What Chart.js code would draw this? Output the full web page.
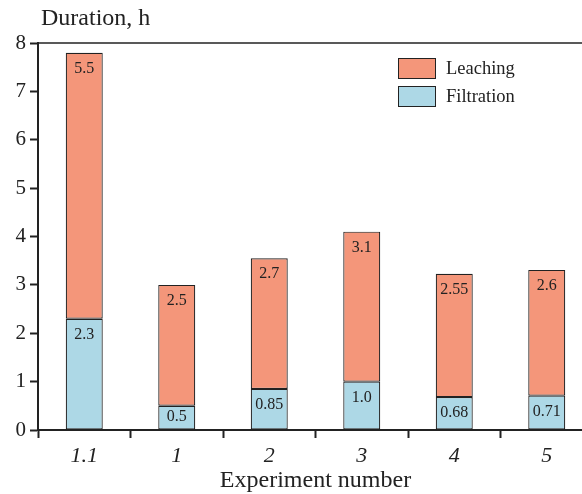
<!DOCTYPE html>
<html>
<head>
<meta charset="utf-8">
<script src="https://cdn.jsdelivr.net/npm/chart.js@4/dist/chart.umd.min.js"></script>
<style>
  html, body { margin: 0; padding: 0; background: #fff; overflow: hidden; }
  #wrap { width: 600px; height: 494px; position: relative; }
</style>
</head>
<body>
<div id="wrap"><canvas id="myChart" width="600" height="494"></canvas></div>
<script>
// experiment numbers on the x axis
const experiments = ["1.1", "1", "2", "3", "4", "5"];
// durations, hours
const filtration = [2.3, 0.5, 0.85, 1.0, 0.68, 0.71];
const leaching = [5.5, 2.5, 2.7, 3.1, 2.55, 2.6];
const yTicks = [0, 1, 2, 3, 4, 5, 6, 7, 8];

const SERIF = "'Liberation Serif', 'Times New Roman', serif";

function fmt(v) {
    return Number.isInteger(v) ? v.toFixed(1) : String(v);
}

// labels inside each bar segment, near its top
const segmentLabels = {
    id: "segmentLabels",
    afterDatasetsDraw(chart) {
        const ctx = chart.ctx;
        ctx.save();
        ctx.font = "16px " + SERIF;
        ctx.fillStyle = "#222";
        ctx.textAlign = "center";
        ctx.textBaseline = "middle";
        chart.data.datasets.forEach((ds, i) => {
            chart.getDatasetMeta(i).data.forEach((bar, j) => {
                const h = Math.abs(bar.base - bar.y);
                const off = Math.min(16, h / 2 - 1);
                ctx.fillText(fmt(ds.data[j]), bar.x, bar.y + off);
            });
        });
        ctx.restore();
    }
};

// top frame line, y-axis title and the legend box
const extras = {
    id: "extras",
    afterDraw(chart) {
        const ctx = chart.ctx;
        const a = chart.chartArea;
        ctx.save();
        ctx.strokeStyle = "#222";
        ctx.lineWidth = 1.5;
        ctx.beginPath();
        ctx.moveTo(a.left, a.top);
        ctx.lineTo(a.right, a.top);
        ctx.stroke();

        ctx.fillStyle = "#222";
        ctx.font = "24px " + SERIF;
        ctx.textAlign = "left";
        ctx.textBaseline = "middle";
        ctx.fillText("Duration, h", 41, 19);

        // legend: leaching above filtration
        const order = [1, 0];
        ctx.font = "18.5px " + SERIF;
        order.forEach((di, k) => {
            const ds = chart.data.datasets[di];
            const y = 58 + k * 28;
            ctx.fillStyle = ds.backgroundColor;
            ctx.fillRect(398, y, 37, 20);
            ctx.strokeStyle = "#222";
            ctx.lineWidth = 1;
            ctx.strokeRect(398.5, y + 0.5, 37, 20);
            ctx.fillStyle = "#222";
            ctx.fillText(ds.label, 446, y + 11);
        });
        ctx.restore();
    }
};

new Chart("myChart", {
    type: "bar",
    data: {
        labels: experiments,
        datasets: [{
            label: "Filtration",
            data: filtration,
            backgroundColor: "#add8e6",
            borderColor: "#222",
            borderWidth: 1.2,
            borderSkipped: false,
            barPercentage: 0.4,
            categoryPercentage: 1
        }, {
            label: "Leaching",
            data: leaching,
            backgroundColor: "#f4967a",
            borderColor: "#222",
            borderWidth: 1.2,
            borderSkipped: false,
            barPercentage: 0.4,
            categoryPercentage: 1
        }]
    },
    options: {
        responsive: false,
        animation: false,
        devicePixelRatio: 1,
        layout: { padding: { top: 43, right: 7, bottom: 0, left: 0 } },
        plugins: {
            legend: { display: false },
            tooltip: { enabled: false }
        },
        scales: {
            x: {
                stacked: true,
                offset: true,
                afterFit(scale) { scale.height = 64; },
                grid: {
                    offset: true,
                    drawOnChartArea: false,
                    drawTicks: true,
                    tickLength: 8,
                    tickWidth: 2,
                    tickColor: "#222"
                },
                border: { display: true, color: "#222", width: 2 },
                ticks: {
                    color: "#222",
                    padding: 5,
                    font: { family: SERIF, size: 22, style: "italic" }
                },
                title: {
                    display: true,
                    text: "Experiment number",
                    color: "#222",
                    padding: { top: 0, bottom: 0 },
                    font: { family: SERIF, size: 24, lineHeight: 1.1 }
                }
            },
            y: {
                stacked: true,
                min: 0,
                max: 8,
                afterBuildTicks(scale) {
                    scale.ticks = yTicks.map(v => ({ value: v }));
                },
                afterFit(scale) { scale.width = 38; },
                grid: {
                    drawOnChartArea: false,
                    drawTicks: true,
                    tickLength: 8,
                    tickWidth: 2,
                    tickColor: "#222"
                },
                border: { display: true, color: "#222", width: 2 },
                ticks: {
                    color: "#222",
                    padding: 4,
                    font: { family: SERIF, size: 21 }
                }
            }
        }
    },
    plugins: [segmentLabels, extras]
});
</script>
</body>
</html>
